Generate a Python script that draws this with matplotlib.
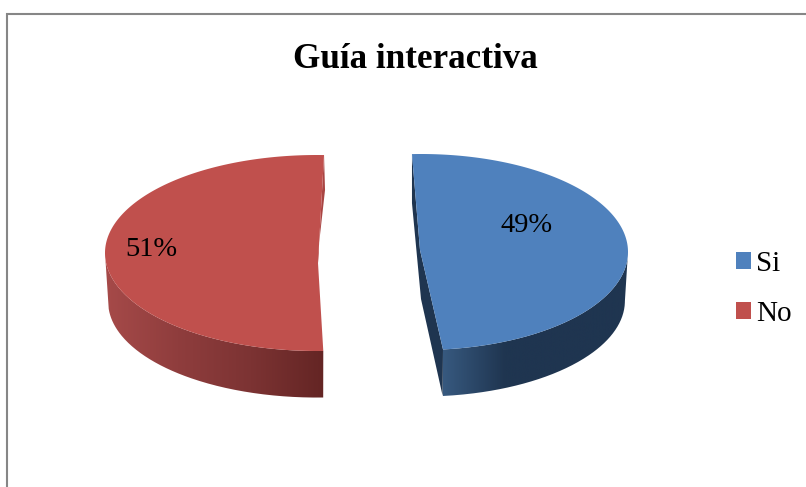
import numpy as np
import matplotlib.pyplot as plt
from matplotlib.colors import LinearSegmentedColormap
from matplotlib.patches import Patch, PathPatch, Polygon
from matplotlib.path import Path

# data
labels = ['Si', 'No']
values = [49, 51]
title = 'Guía interactiva'

plt.rcParams['font.family'] = ['Liberation Serif', 'DejaVu Serif']

# look of each slice
top_colors = ['#4f81bd', '#c0504d']
wall_colors = [['#37597f', '#1f3550', '#1f3550', '#1f3550'], ['#a64a49', '#8f3d3d', '#7c3333', '#642524']]
cut_colors = ['#1f3550', '#a94543']
# centre x, centre y, half width, half height, first angle (clockwise from 12 o'clock)
shapes = [(421, 252, 207, 98, -2.5), (317, 253, 212, 98, 178.3)]
apex = [(420, 250), (318, 263)]
label_pos = [(527, 225), (151, 249)]
depth = 49
shrink = 0.985

fig = plt.figure(figsize=(8.06, 4.87), dpi=100)
ax = fig.add_axes([0, 0, 1, 1])


def rim(shape, a, b, bottom=False):
    cx, cy, w, h, _ = shape
    t = np.radians(np.linspace(a, b, 200))
    if bottom:
        return np.column_stack([cx + w * shrink * np.sin(t), cy + depth + h * 0.975 * -np.cos(t)])
    return np.column_stack([cx + w * np.sin(t), cy - h * np.cos(t)])


total = sum(values)
for i, v in enumerate(values):
    shape = shapes[i]
    start = shape[4]
    end = start + 360 * v / total
    ax_x, ax_y = apex[i]

    # outer wall, gradient clipped to the visible part of the rim
    lo, hi = (90, end) if i == 0 else (start, 270)
    wall = np.vstack([rim(shape, lo, hi), rim(shape, hi, lo, True)])
    cmap = LinearSegmentedColormap.from_list('wall', wall_colors[i])
    im = ax.imshow(np.linspace(0, 1, 256).reshape(1, -1), cmap=cmap, aspect='auto', zorder=2,
                   extent=[wall[:, 0].min(), wall[:, 0].max(), wall[:, 1].max(), wall[:, 1].min()])
    clip = PathPatch(Path(wall), transform=ax.transData, fc='none', ec='none')
    ax.add_patch(clip)
    im.set_clip_path(clip)

    # cut face next to the gap
    if i == 0:
        p0, p1 = rim(shape, start, start + 0.01)[0], rim(shape, end, end + 0.01)[0]
        cut = [p0, (ax_x, ax_y), p1, rim(shape, end, end + 0.01, True)[0],
               (ax_x + 1, ax_y + depth), (p0[0], p0[1] + depth)]
    else:
        p0 = rim(shape, end, end + 0.01)[0]
        cut = [p0, (p0[0] + 1, p0[1] + 35), (ax_x, ax_y - 10), (ax_x, ax_y)]
    ax.add_patch(Polygon(cut, fc=cut_colors[i], ec='none', zorder=2.5))

    # top face
    top = np.vstack([[(ax_x, ax_y)], rim(shape, start, end)])
    ax.add_patch(Polygon(top, fc=top_colors[i], ec='none', zorder=3))

    ax.text(label_pos[i][0], label_pos[i][1], f'{v}%', fontsize=20.5, color='black',
            ha='center', va='center', zorder=4)

ax.text(415, 60, title, fontsize=25.3, fontweight='bold', ha='center', va='center')

# chart frame, only left and top fall inside the picture
ax.plot([7, 7, 806], [487, 14, 14], color='#868686', lw=1.5, solid_joinstyle='miter')

handles = [Patch(fc=c, ec='none') for c in top_colors]
ax.legend(handles, labels, loc='center left', bbox_to_anchor=(736, 289), bbox_transform=ax.transData,
          frameon=False, fontsize=21, handlelength=0.52, handleheight=0.52, handletextpad=0.18,
          labelspacing=0.8, borderpad=0, borderaxespad=0)

ax.set_xlim(0, 806)
ax.set_ylim(487, 0)
ax.axis('off')
fig.savefig('out.png', dpi=100, facecolor='white')
